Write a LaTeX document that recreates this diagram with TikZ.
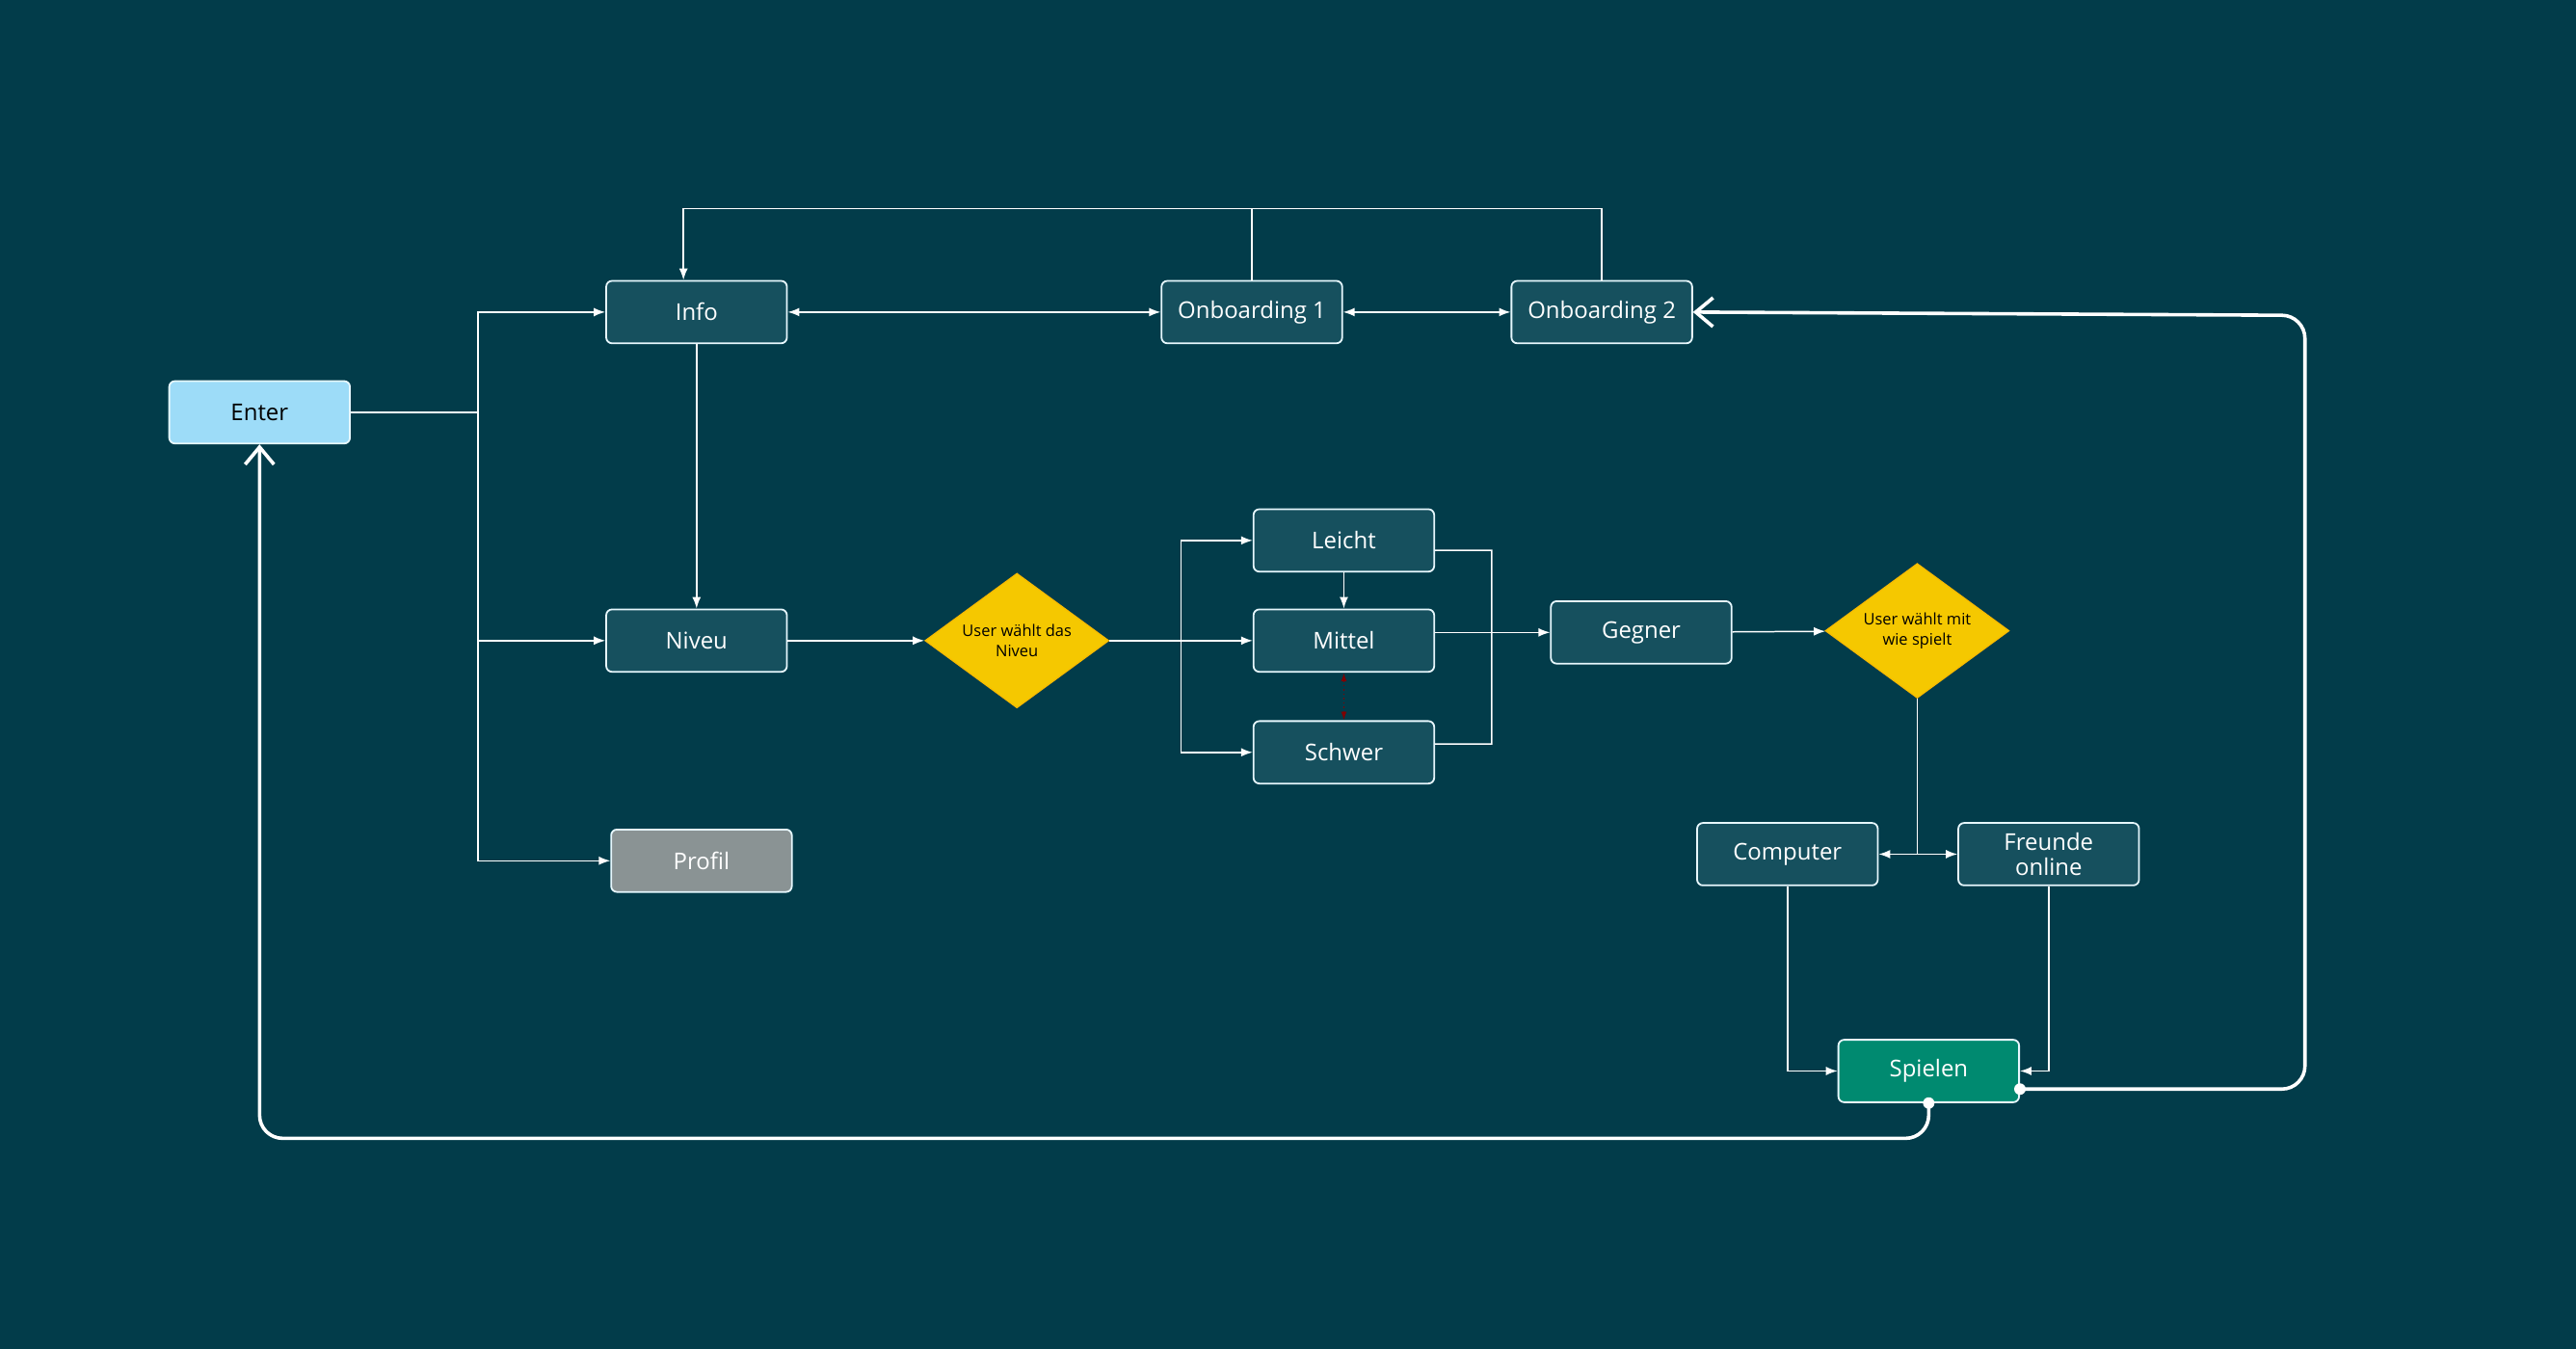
\documentclass[tikz,border=0pt]{standalone}
\usepackage{fontspec}
\setmainfont{Open Sans}
\usetikzlibrary{arrows.meta, positioning, shapes.geometric}
\definecolor{bg}{HTML}{023C4A}
\definecolor{boxfill}{HTML}{16505E}
\definecolor{enterfill}{HTML}{9DDCF8}
\definecolor{decfill}{HTML}{F5C800}
\definecolor{spielfill}{HTML}{008A70}
\definecolor{profilfill}{HTML}{8A9394}
\tikzset{
  box/.style = {draw=white!90!cyan, fill=boxfill, text=white, rounded corners=2pt, line width=0.6pt,
                minimum width=2.2cm, minimum height=0.76cm, align=center, font=\fontsize{8}{9}\selectfont},
  entscheid/.style = {diamond, fill=decfill, draw=decfill!80!orange, text=black, aspect=1.35, inner sep=0pt,
                minimum width=2.24cm, minimum height=1.64cm, align=center, font=\fontsize{5.5}{7}\selectfont},
  fleche/.style = {-{Latex[length=4pt,width=3pt]}, white, line width=0.5pt},
  fleche2/.style = {{Latex[length=4pt,width=3pt]}-{Latex[length=4pt,width=3pt]}, white, line width=0.5pt},
  retour/.style = {-{Straight Barb[length=6pt,width=10pt]}, white, line width=1.2pt, rounded corners=8pt},
  trait/.style = {-, white, line width=0.5pt},
}
\begin{document}
\begin{tikzpicture}[x=0.02cm, y=-0.02cm]
	\fill[bg] (0,0) rectangle (1568,821);
	\useasboundingbox (0,0) rectangle (1568,821);

	\node[box, fill=enterfill, text=black] (Enter) at (158,251) {Enter};
	\node[box] (Info) at (424,190) {Info};
	\node[box] (On1) at (762,190) {Onboarding 1};
	\node[box] (On2) at (975,190) {Onboarding 2};
	\node[box] (Niveu) at (424,390) {Niveu};
	\node[box, fill=profilfill] (Profil) at (427,524) {Profil};
	\node[entscheid] (Dec1) at (619,390) {User wählt das\\Niveu};
	\node[box] (Leicht) at (818,329) {Leicht};
	\node[box] (Mittel) at (818,390) {Mittel};
	\node[box] (Schwer) at (818,458) {Schwer};
	\node[box] (Gegner) at (999,385) {Gegner};
	\node[entscheid] (Dec2) at (1167,384) {User wählt mit\\wie spielt};
	\node[box] (Comp) at (1088,520) {Computer};
	\node[box, font=\fontsize{8}{8.5}\selectfont] (Freunde) at (1247,520) {Freunde\\online};
	\node[box, fill=spielfill] (Spielen) at (1174,652) {Spielen};

	\coordinate (split) at (291,251);
	\coordinate (haut) at (416,127);
	\coordinate (branche) at (719,390);
	\coordinate (fourche) at (1167,520);

	%% Fleches
	\draw[trait] (Enter.east) -- (split);
	\draw[fleche] (split) |- (Info.west);
	\draw[fleche] (split) |- (Niveu.west);
	\draw[fleche] (split) |- (Profil.west);

	\draw[fleche] (On1.north) |- (haut) -- (Info.north -| haut);
	\draw[trait] (On2.north) |- (On1.north |- haut);
	\draw[fleche2] (Info) -- (On1);
	\draw[fleche2] (On1) -- (On2);
	\draw[fleche] (Info) -- (Niveu);

	\draw[fleche] (Niveu) -- (Dec1);
	\draw[fleche] (Dec1) -- (Mittel);
	\draw[fleche] (branche) |- (Leicht.west);
	\draw[fleche] (branche) |- (Schwer.west);
	\draw[fleche] (Leicht) -- (Mittel);
	\draw[{Latex[length=3pt,width=2pt]}-{Latex[length=3pt,width=2pt]}, red!50!black, densely dotted, line width=0.5pt] (Mittel) -- (Schwer);
	\draw[trait] ([yshift=-0.12cm]Leicht.east) -| (908,453) -- ([yshift=0.1cm]Schwer.east);
	\draw[fleche] (Mittel.east |- Gegner) -- (Gegner.west);
	\draw[fleche] (Gegner) -- (Dec2);

	\draw[trait] (Dec2.south) -- (fourche);
	\draw[fleche] (fourche) -- (Comp.east);
	\draw[fleche] (fourche) -- (Freunde.west);
	\draw[fleche] (Comp.south) |- (Spielen.west);
	\draw[fleche] (Freunde.south) |- (Spielen.east);

	%% Retours
	\fill[white] (Spielen.south) circle (3.5);
	\fill[white] ([yshift=-0.22cm]Spielen.east) circle (3.5);
	\draw[retour] (Spielen.south) -- (1174,693) -| (Enter.south);
	\draw[retour] ([yshift=-0.22cm]Spielen.east) -| (1403,192) -- (On2.east);

\end{tikzpicture}
\end{document}
